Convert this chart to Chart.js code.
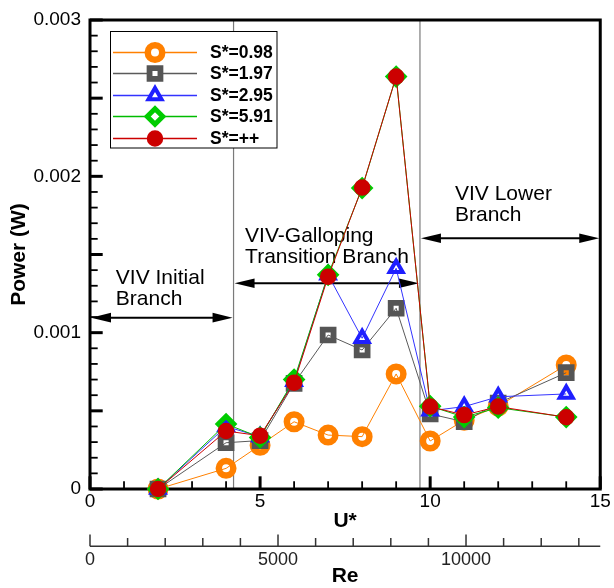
<!DOCTYPE html>
<html><head><meta charset="utf-8">
<script src="https://cdn.jsdelivr.net/npm/chart.js@4"></script>
<style>html,body{margin:0;padding:0;background:#fff}canvas{display:block}</style>
</head><body>
<canvas id="c" width="614" height="588"></canvas>
<script>
// ---- data ----
const uStar = [2, 4, 5, 6, 7, 8, 9, 10, 11, 12, 14];
const power098 = [0, 0.000132, 0.00028, 0.00043, 0.000345, 0.000335, 0.000736, 0.000307, 0.00044, 0.00053, 0.000793];
const power197 = [0, 0.000296, 0.00031, 0.000676, 0.000985, 0.000889, 0.001156, 0.00048, 0.00043, 0.00055, 0.000744];
const power295 = [0, 0.0004, 0.000335, 0.00069, 0.00137, 0.000964, 0.001412, 0.0005, 0.000527, 0.00059, 0.000608];
const power591 = [0, 0.000416, 0.00033, 0.0007, 0.00137, 0.001925, 0.002638, 0.00053, 0.00046, 0.00052, 0.00046];
const powerInf = [0, 0.000371, 0.000341, 0.00068, 0.001358, 0.001928, 0.002638, 0.000527, 0.000473, 0.000527, 0.000459];
const seriesLabels = ['S*=0.98', 'S*=1.97', 'S*=2.95', 'S*=5.91', 'S*=++'];
const uTicks = [0, 5, 10, 15];
const powerTicks = [0, 0.001, 0.002, 0.003];
const reTicks = [0, 5000, 10000];
const reMax = 13570;
const branchBounds = [4.22, 9.70];
const branchLabels = [['VIV Initial', 'Branch'], ['VIV-Galloping', 'Transition Branch'], ['VIV Lower', 'Branch']];

// ---- annotation placement (data units) ----
const branchArrows = [[0, 4.22, 0.001096], [4.22, 9.70, 0.001316], [9.70, 15, 0.001604]];
const branchTextAt = [[0.76, 0.00135], [4.56, 0.001619], [10.73, 0.001886]];

const FONT = '"Liberation Sans", Arial, Helvetica, sans-serif';
Chart.defaults.font.family = FONT;
Chart.defaults.color = '#000';

const styles = [
  {line:'#FF8000', mark:'#FF8000', fill:'rgba(0,0,0,0)', ps:'circle', r:7.25, bw:6.5, legFill:'#fff'},
  {line:'#5a5a5a', mark:'#555555', fill:'rgba(0,0,0,0)', ps:'rect', r:7.7, bw:5.8, legFill:'#fff'},
  {line:'#3333FF', mark:'#1F1FFF', fill:'rgba(0,0,0,0)', ps:'triangle', r:7.5, bw:4, legFill:'#fff'},
  {line:'#00BB00', mark:'#00CC00', fill:'rgba(0,0,0,0)', ps:'rectRot', r:7.8, bw:5, legFill:'#fff'},
  {line:'#CC0000', mark:'#CC0000', fill:'#CC0000', ps:'circle', r:7.5, bw:1.5, legFill:'#CC0000'}
];
const seriesValues = [power098, power197, power295, power591, powerInf];

const datasets = seriesValues.map((vals, i) => ({
  label: seriesLabels[i],
  data: uStar.map((u, k) => ({x: u, y: vals[k]})),
  xAxisID: 'x', yAxisID: 'y',
  borderColor: styles[i].line,
  borderWidth: 1,
  pointStyle: styles[i].ps,
  pointRadius: styles[i].r,
  pointHoverRadius: styles[i].r,
  pointBorderWidth: styles[i].bw,
  pointHoverBorderWidth: styles[i].bw,
  pointBorderColor: styles[i].mark,
  pointBackgroundColor: styles[i].fill,
  order: 5 - i,
  clip: false,
  tension: 0
}));

function seg(ctx, x0, y0, x1, y1) { ctx.beginPath(); ctx.moveTo(x0, y0); ctx.lineTo(x1, y1); ctx.stroke(); }

const deco = {
  id: 'deco',
  beforeDatasetsDraw(chart) {
    const {ctx, chartArea: a, scales: {x, y}} = chart;
    ctx.save();
    // branch separators
    ctx.strokeStyle = '#7a7a7a'; ctx.lineWidth = 1.2;
    branchBounds.forEach(u => { const px = x.getPixelForValue(u); seg(ctx, px, a.top, px, a.bottom); });
    // double arrows
    ctx.strokeStyle = '#000'; ctx.fillStyle = '#000'; ctx.lineWidth = 2;
    branchArrows.forEach(([u0, u1, p]) => {
      const x0 = x.getPixelForValue(u0), x1 = x.getPixelForValue(u1), py = y.getPixelForValue(p);
      const L = 21, W = 4.8;
      seg(ctx, x0 + L - 2, py, x1 - L + 2, py);
      ctx.beginPath(); ctx.moveTo(x0 + 1, py); ctx.lineTo(x0 + L, py - W); ctx.lineTo(x0 + L, py + W); ctx.closePath(); ctx.fill();
      ctx.beginPath(); ctx.moveTo(x1 - 1, py); ctx.lineTo(x1 - L, py - W); ctx.lineTo(x1 - L, py + W); ctx.closePath(); ctx.fill();
    });
    // branch texts
    ctx.font = '21px ' + FONT; ctx.textBaseline = 'middle'; ctx.textAlign = 'left'; ctx.fillStyle = '#000';
    branchLabels.forEach((lines, i) => {
      const tx = x.getPixelForValue(branchTextAt[i][0]), ty = y.getPixelForValue(branchTextAt[i][1]);
      lines.forEach((s, j) => ctx.fillText(s, tx, ty + j * 21.5));
    });
    // inward tick marks
    ctx.strokeStyle = '#000';
    for (let u = x.min; u <= x.max; u += 1) {
      const px = x.getPixelForValue(u), major = u % 5 === 0;
      ctx.lineWidth = major ? 3 : 1.8;
      seg(ctx, px, a.bottom, px, a.bottom - (major ? 12.7 : 7.7));
    }
    for (let k = 0; k <= 30; k++) {
      const py = y.getPixelForValue(k * 0.0001), major = k % 5 === 0;
      ctx.lineWidth = major ? 3 : 1.8;
      seg(ctx, a.left, py, a.left + (major ? 12.7 : 7.7), py);
    }
    // frame
    ctx.lineWidth = 3; ctx.strokeStyle = '#000';
    ctx.strokeRect(a.left, a.top, a.right - a.left, a.bottom - a.top);
    ctx.restore();
  },
  afterDraw(chart) {
    const {ctx} = chart;
    const r = chart.scales.re;
    ctx.save();
    // Re axis line with upward ticks
    const ly = r.top + 10.3;
    ctx.strokeStyle = '#333'; ctx.lineWidth = 1.5;
    seg(ctx, r.left, ly, r.right, ly);
    for (let v = 0; v <= r.max; v += 1000) {
      const px = r.getPixelForValue(v);
      seg(ctx, px, ly, px, ly - (v % 5000 === 0 ? 11.7 : 8.3));
    }
    // legend
    const bx = 110.5, by = 31.5, bw = 166.5, bh = 116.5;
    ctx.fillStyle = '#fff'; ctx.fillRect(bx, by, bw, bh);
    ctx.strokeStyle = '#000'; ctx.lineWidth = 1; ctx.strokeRect(bx, by, bw, bh);
    ctx.font = 'bold 17.5px ' + FONT; ctx.textBaseline = 'middle'; ctx.textAlign = 'left';
    seriesLabels.forEach((lab, i) => {
      const yy = Math.round(51.5 + i * 21.5) + 0.5, st = styles[i];
      ctx.strokeStyle = st.line; ctx.lineWidth = 1.5;
      seg(ctx, 113, yy, 197, yy);
      ctx.fillStyle = st.legFill; ctx.strokeStyle = st.mark; ctx.lineWidth = st.bw;
      Chart.helpers.drawPoint(ctx, {pointStyle: st.ps, rotation: 0, radius: st.r, borderWidth: st.bw}, 155, yy);
      ctx.fillStyle = '#000';
      ctx.fillText(lab, 210, yy + 1);
    });
    ctx.restore();
  }
};

new Chart(document.getElementById('c'), {
  type: 'line',
  data: {datasets},
  options: {
    responsive: false, animation: false, devicePixelRatio: 1, events: [],
    layout: {padding: {left: 0, right: 11, top: 20, bottom: 0}},
    plugins: {legend: {display: false}, tooltip: {enabled: false}},
    scales: {
      x: {
        type: 'linear', position: 'bottom', min: 0, max: 15, weight: 0,
        afterBuildTicks(s) { s.ticks = uTicks.map(v => ({value: v})); },
        afterFit(s) { s.height = 47; s.paddingLeft = 0; s.paddingRight = 0; },
        grid: {display: false, drawTicks: false}, border: {display: false},
        ticks: {padding: 0, maxRotation: 0, autoSkip: false, font: {size: 19, lineHeight: 1.35}, color: '#000', callback: v => String(v)},
        title: {display: true, text: 'U*', font: {size: 21, weight: 'bold'}, color: '#000', padding: {top: 0, bottom: 2.4}}
      },
      re: {
        type: 'linear', position: 'bottom', min: 0, max: reMax, weight: 1,
        afterBuildTicks(s) { s.ticks = reTicks.map(v => ({value: v})); },
        afterFit(s) { s.height = 52; s.paddingLeft = 0; s.paddingRight = 0; },
        grid: {display: false, drawTicks: false}, border: {display: false},
        ticks: {padding: 13, maxRotation: 0, autoSkip: false, font: {size: 18}, color: '#222', callback: v => String(v)},
        title: {display: true, text: 'Re', font: {size: 21, weight: 'bold'}, color: '#000', padding: {top: 0, bottom: -1}}
      },
      y: {
        type: 'linear', position: 'left', min: 0, max: 0.003,
        afterBuildTicks(s) { s.ticks = powerTicks.map(v => ({value: v})); },
        afterFit(s) { s.width = 90; s.paddingTop = 0; s.paddingBottom = 0; },
        grid: {display: false, drawTicks: false}, border: {display: false},
        ticks: {padding: 9, font: {size: 19}, color: '#000', callback: v => v === 0 ? '0' : v.toFixed(3)},
        title: {display: true, text: 'Power (W)', font: {size: 21, weight: 'bold'}, color: '#000', padding: {top: 7, bottom: 0}}
      }
    }
  },
  plugins: [deco]
});
</script>
</body></html>
